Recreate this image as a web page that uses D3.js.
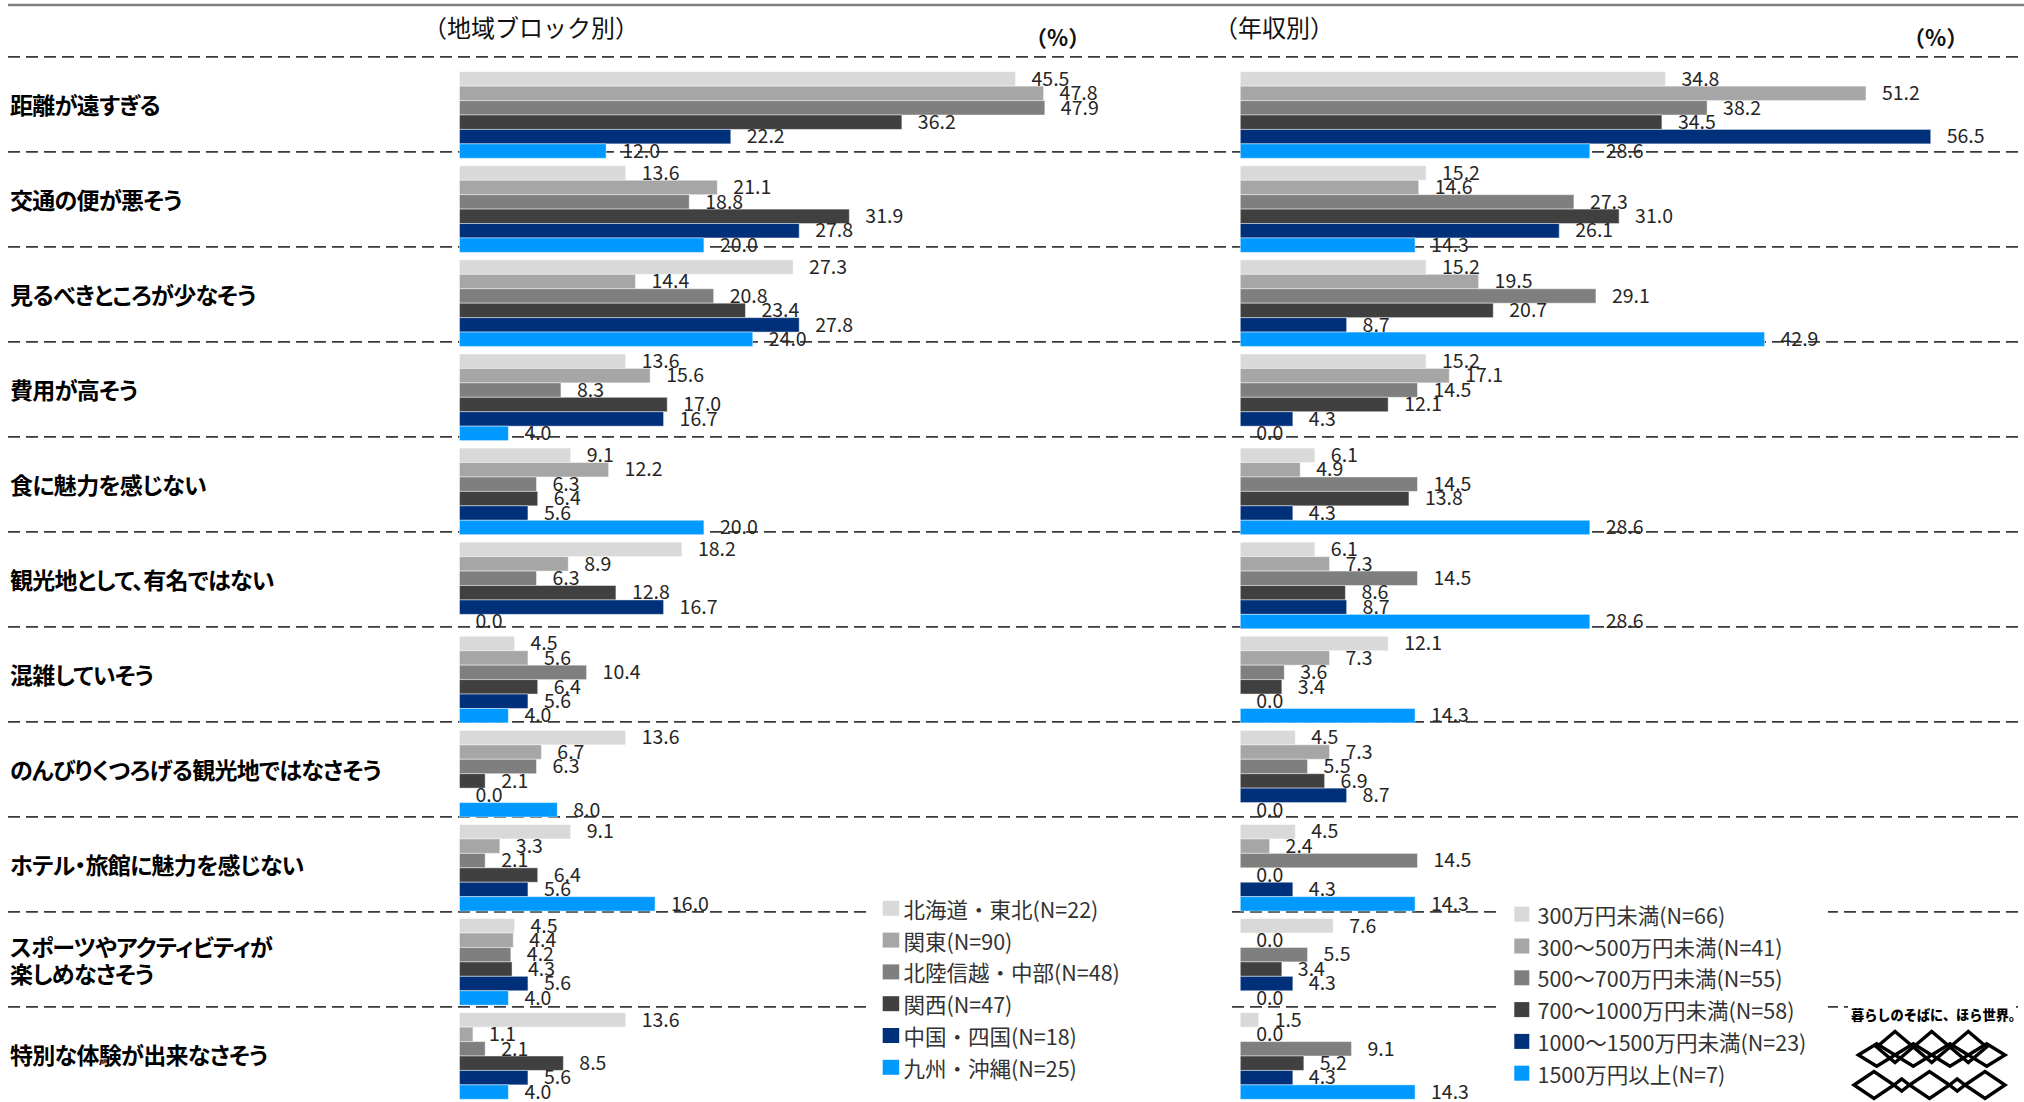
<!DOCTYPE html>
<html>
<head>
<meta charset="utf-8">
<script src="https://cdn.jsdelivr.net/npm/d3@7"></script>
<style>
  html, body { margin: 0; padding: 0; background: #fff; }
  svg { display: block; font-family: "Noto Sans CJK JP", "Noto Sans", sans-serif; }
  .cat { font-feature-settings: "palt"; letter-spacing: -0.7px; }
</style>
</head>
<body>
<svg id="chart" width="2024" height="1102"></svg>
<script>
// ---- data -------------------------------------------------------------
const categories = [
  "距離が遠すぎる",
  "交通の便が悪そう",
  "見るべきところが少なそう",
  "費用が高そう",
  "食に魅力を感じない",
  "観光地として、有名ではない",
  "混雑していそう",
  "のんびりくつろげる観光地ではなさそう",
  "ホテル・旅館に魅力を感じない",
  "スポーツやアクティビティが\n楽しめなさそう",
  "特別な体験が出来なさそう"
];

const regionSeries = [
  "北海道・東北(N=22)", "関東(N=90)", "北陸信越・中部(N=48)",
  "関西(N=47)", "中国・四国(N=18)", "九州・沖縄(N=25)"
];
const regionHokkaidoTohoku = [45.5, 13.6, 27.3, 13.6, 9.1, 18.2, 4.5, 13.6, 9.1, 4.5, 13.6];
const regionKanto          = [47.8, 21.1, 14.4, 15.6, 12.2, 8.9, 5.6, 6.7, 3.3, 4.4, 1.1];
const regionHokurikuChubu  = [47.9, 18.8, 20.8, 8.3, 6.3, 6.3, 10.4, 6.3, 2.1, 4.2, 2.1];
const regionKansai         = [36.2, 31.9, 23.4, 17.0, 6.4, 12.8, 6.4, 2.1, 6.4, 4.3, 8.5];
const regionChugokuShikoku = [22.2, 27.8, 27.8, 16.7, 5.6, 16.7, 5.6, 0.0, 5.6, 5.6, 5.6];
const regionKyushuOkinawa  = [12.0, 20.0, 24.0, 4.0, 20.0, 0.0, 4.0, 8.0, 16.0, 4.0, 4.0];

const incomeSeries = [
  "300万円未満(N=66)", "300～500万円未満(N=41)", "500～700万円未満(N=55)",
  "700～1000万円未満(N=58)", "1000～1500万円未満(N=23)", "1500万円以上(N=7)"
];
const incomeUnder300   = [34.8, 15.2, 15.2, 15.2, 6.1, 6.1, 12.1, 4.5, 4.5, 7.6, 1.5];
const income300to500   = [51.2, 14.6, 19.5, 17.1, 4.9, 7.3, 7.3, 7.3, 2.4, 0.0, 0.0];
const income500to700   = [38.2, 27.3, 29.1, 14.5, 14.5, 14.5, 3.6, 5.5, 14.5, 5.5, 9.1];
const income700to1000  = [34.5, 31.0, 20.7, 12.1, 13.8, 8.6, 3.4, 6.9, 0.0, 3.4, 5.2];
const income1000to1500 = [56.5, 26.1, 8.7, 4.3, 4.3, 8.7, 0.0, 8.7, 4.3, 4.3, 4.3];
const income1500plus   = [28.6, 14.3, 42.9, 0.0, 28.6, 28.6, 14.3, 0.0, 14.3, 0.0, 14.3];

const panelTitles = ["（地域ブロック別）", "（年収別）"];
const unitLabel = "（%）";
const tagline = "暮らしのそばに、ほら世界。";

const seriesColors = ["#d9d9d9", "#a6a6a6", "#7f7f7f", "#404040", "#00307a", "#0099ff"];

// ---- layout -----------------------------------------------------------
const W = 2024, H = 1102;
const svg = d3.select("#chart");

const x = d3.scaleLinear().domain([0, 60]).range([0, 733.2]);

const groupStep = 94.1, groupPad = 7.5, firstGroupTop = 71.7;
const y = d3.scaleBand()
  .domain(categories)
  .range([firstGroupTop - groupPad / 2, firstGroupTop - groupPad / 2 + categories.length * groupStep])
  .paddingInner(groupPad / groupStep)
  .paddingOuter(groupPad / groupStep / 2);
const ySeries = d3.scaleBand().domain(d3.range(6)).range([0, y.bandwidth()]);

// row separators (dashed)
const sepY = d3.scaleLinear().domain([0, 10]).range([56.8, 1006.8]);
const separators = d3.range(11);

const panels = [
  {
    x0: 459.5, series: regionSeries,
    values: [regionHokkaidoTohoku, regionKanto, regionHokurikuChubu, regionKansai, regionChugokuShikoku, regionKyushuOkinawa],
    title: panelTitles[0], titleX: 423, unitX: 1025,
    legend: { box: [868, 893, 360, 195], sqX: 882.7, sqW: 16.5, sqH: 15, textX: 903.5, y0: 908.3 }
  },
  {
    x0: 1240.3, series: incomeSeries,
    values: [incomeUnder300, income300to500, income500to700, income700to1000, income1000to1500, income1500plus],
    title: panelTitles[1], titleX: 1214, unitX: 1903,
    legend: { box: [1501, 897, 327, 195], sqX: 1514.3, sqW: 15, sqH: 15, textX: 1537.5, y0: 914.2 }
  }
];
const legendStep = 31.8;

// top rule
svg.append("line")
  .attr("x1", 8).attr("x2", W).attr("y1", 5).attr("y2", 5)
  .attr("stroke", "#7f7f7f").attr("stroke-width", 2.5);

// dashed separators
svg.append("g").selectAll("line").data(separators).join("line")
  .attr("x1", 8).attr("x2", W)
  .attr("y1", d => sepY(d)).attr("y2", d => sepY(d))
  .attr("stroke", "#3a3a3a").attr("stroke-width", 1.8)
  .attr("stroke-dasharray", "12,6");

// category labels
const catG = svg.append("g");
categories.forEach((c, i) => {
  const lines = c.split("\n");
  const cy = (sepY(i) + sepY(i) + 95) / 2;
  const t = catG.append("text")
    .attr("class", "cat")
    .attr("x", 10)
    .attr("font-size", 23).attr("font-weight", 700).attr("fill", "#000");
  lines.forEach((ln, j) => {
    t.append("tspan")
      .attr("x", 10)
      .attr("y", cy + (j - (lines.length - 1) / 2) * 26.7)
      .attr("dominant-baseline", "central")
      .text(ln);
  });
});

panels.forEach(p => {
  // titles
  svg.append("text")
    .attr("x", p.titleX).attr("y", 26)
    .attr("dominant-baseline", "central")
    .attr("font-size", 24).attr("fill", "#111")
    .text(p.title);
  svg.append("text")
    .attr("x", p.unitX).attr("y", 36)
    .attr("dominant-baseline", "central")
    .attr("font-size", 22).attr("font-weight", 700).attr("fill", "#111")
    .text(unitLabel);

  // legend with white backing
  const lg = svg.append("g");
  const b = p.legend.box;
  lg.append("rect").attr("x", b[0]).attr("y", b[1]).attr("width", b[2]).attr("height", b[3]).attr("fill", "#fff");
  p.series.forEach((s, k) => {
    const cy = p.legend.y0 + k * legendStep;
    lg.append("rect")
      .attr("x", p.legend.sqX).attr("y", cy - p.legend.sqH / 2)
      .attr("width", p.legend.sqW).attr("height", p.legend.sqH)
      .attr("fill", seriesColors[k]);
    lg.append("text")
      .attr("x", p.legend.textX).attr("y", cy)
      .attr("dominant-baseline", "central")
      .attr("font-size", 21.5).attr("fill", "#333")
      .text(s);
  });

  // bars
  const g = svg.append("g").attr("transform", `translate(${p.x0},0)`);
  const cells = [];
  p.values.forEach((arr, k) => arr.forEach((v, i) => cells.push({ k, i, v })));
  g.selectAll("rect.bar").data(cells).join("rect")
    .attr("class", "bar")
    .attr("x", 0)
    .attr("y", d => y(categories[d.i]) + ySeries(d.k))
    .attr("width", d => x(d.v))
    .attr("height", ySeries.bandwidth())
    .attr("fill", d => seriesColors[d.k])
    .attr("stroke", "#ffffff").attr("stroke-opacity", 0.45).attr("stroke-width", 1);

  // value labels
  g.selectAll("text.val").data(cells).join("text")
    .attr("class", "val")
    .attr("x", d => x(d.v) + 16)
    .attr("y", d => y(categories[d.i]) + ySeries(d.k) + ySeries.bandwidth() - 0.5)
    .attr("font-size", 19.5).attr("fill", "#262626")
    .text(d => d.v.toFixed(1));
});

// brand mark: tagline and diamond lattice
const brand = svg.append("g");
brand.append("rect").attr("x", 1848).attr("y", 1002).attr("width", 168).attr("height", 25).attr("fill", "#fff");
brand.append("text")
  .attr("x", 1851).attr("y", 1014.5)
  .attr("dominant-baseline", "central")
  .attr("font-size", 13.2).attr("font-weight", 900).attr("fill", "#000")
  .text(tagline);

const diamond = (cx, cy, hw, hh) => `M${cx - hw},${cy}L${cx},${cy - hh}L${cx + hw},${cy}L${cx},${cy + hh}Z`;
const latticeTop = [
  [1895, 1047, 18.3, 15.5], [1931.7, 1047, 18.3, 15.5], [1968.3, 1047, 18.3, 15.5],
  [1876.7, 1055, 18.3, 11.3], [1913.3, 1055, 18.3, 11.3], [1950, 1055, 18.3, 11.3], [1986.7, 1055, 18.3, 11.3]
];
const chainBottom = [
  [1874, 1085, 20, 13.5], [1929.5, 1085, 20, 13.5], [1985, 1085, 20, 13.5],
  [1901.7, 1085, 7.7, 6], [1957.2, 1085, 7.7, 6]
];
brand.selectAll("path").data(latticeTop.concat(chainBottom)).join("path")
  .attr("d", d => diamond(...d))
  .attr("fill", "none").attr("stroke", "#000").attr("stroke-width", 3.4)
  .attr("stroke-linejoin", "miter");
</script>
</body>
</html>
